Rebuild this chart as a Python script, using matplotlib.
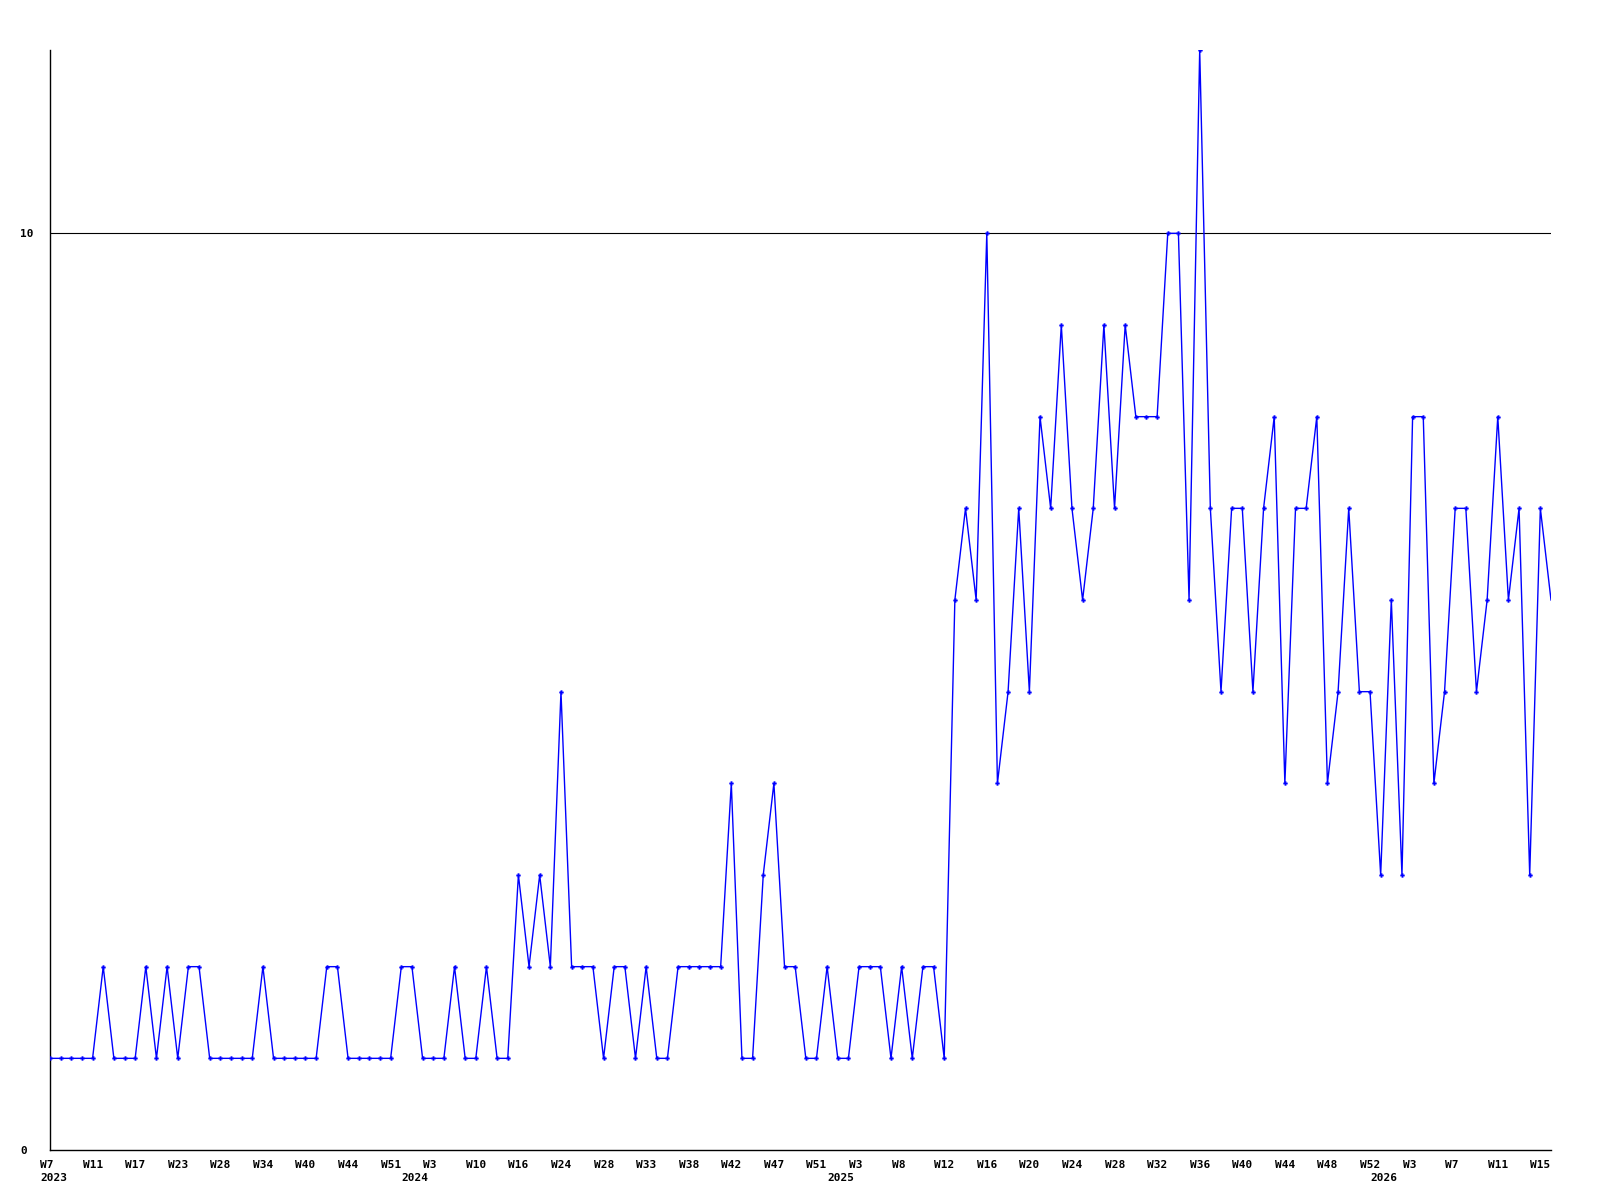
import matplotlib
matplotlib.use("Agg")
import matplotlib.pyplot as plt
from matplotlib.transforms import ScaledTranslation, blended_transform_factory

values = [
    1, 1, 1, 1, 1, 2, 1, 1, 1, 2, 1, 2, 1, 2, 2, 1, 1, 1, 1, 1,
    2, 1, 1, 1, 1, 1, 2, 2, 1, 1, 1, 1, 1, 2, 2, 1, 1, 1, 2, 1,
    1, 2, 1, 1, 3, 2, 3, 2, 5, 2, 2, 2, 1, 2, 2, 1, 2, 1, 1, 2,
    2, 2, 2, 2, 4, 1, 1, 3, 4, 2, 2, 1, 1, 2, 1, 1, 2, 2, 2, 1,
    2, 1, 2, 2, 1, 6, 7, 6, 10, 4, 5, 7, 5, 8, 7, 9, 7, 6, 7, 9,
    7, 9, 8, 8, 8, 10, 10, 6, 12, 7, 5, 7, 7, 5, 7, 8, 4, 7, 7, 8,
    4, 5, 7, 5, 5, 3, 6, 3, 8, 8, 4, 5, 7, 7, 5, 6, 8, 6, 7, 3, 7, 6,
]

week_labels = ["W7", "W11", "W17", "W23", "W28", "W34", "W40", "W44", "W51",
               "W3", "W10", "W16", "W24", "W28", "W33", "W38", "W42", "W47", "W51",
               "W3", "W8", "W12", "W16", "W20", "W24", "W28", "W32", "W36", "W40",
               "W44", "W48", "W52", "W3", "W7", "W11", "W15"]
label_step = 4

years = ["2023", "2024", "2025", "2026"]
year_pos = [0.33, 34.25, 74.3, 125.3]

y_ticks = [0, 10]

font = dict(family=["DejaVu Sans Mono"], weight="bold", size=8)

fig = plt.figure(figsize=(16, 12), dpi=100)
ax = fig.add_axes([50 / 1600, 1 - 1150 / 1200, 1501 / 1600, 1100 / 1200])

x = list(range(len(values)))
ax.plot(x, values, color="#0000ff", linewidth=1.0, marker="P", markersize=3,
        markeredgewidth=0.2, markevery=list(range(len(values) - 1)), zorder=3)

ax.set_xlim(0, len(values) - 1)
ax.set_ylim(0, 12)

ax.axhline(10, color="black", linewidth=0.8, zorder=2)

for s in ["top", "right"]:
    ax.spines[s].set_visible(False)
for s in ["left", "bottom"]:
    ax.spines[s].set_color("black")
    ax.spines[s].set_linewidth(1.0)

ax.set_xticks(list(range(0, len(week_labels) * label_step, label_step)))
ax.set_xticklabels(week_labels, **font)
ax.tick_params(axis="x", length=0, pad=7)
off = ScaledTranslation(-10 / 100, 0, fig.dpi_scale_trans)
for lab in ax.get_xticklabels():
    lab.set_ha("left")
    lab.set_transform(lab.get_transform() + off)

ax.set_yticks(y_ticks)
ax.set_yticklabels([str(v) for v in y_ticks], **font)
ax.tick_params(axis="y", length=0, pad=21.6)
for lab in ax.get_yticklabels():
    lab.set_ha("left")

trans = blended_transform_factory(ax.transData, ax.transAxes)
yoff = ScaledTranslation(0, -23 / 100, fig.dpi_scale_trans)
for yr, xp in zip(years, year_pos):
    ax.text(xp, 0, yr, transform=trans + yoff, ha="center", va="top", **font)

fig.savefig("out.png", dpi=100)
